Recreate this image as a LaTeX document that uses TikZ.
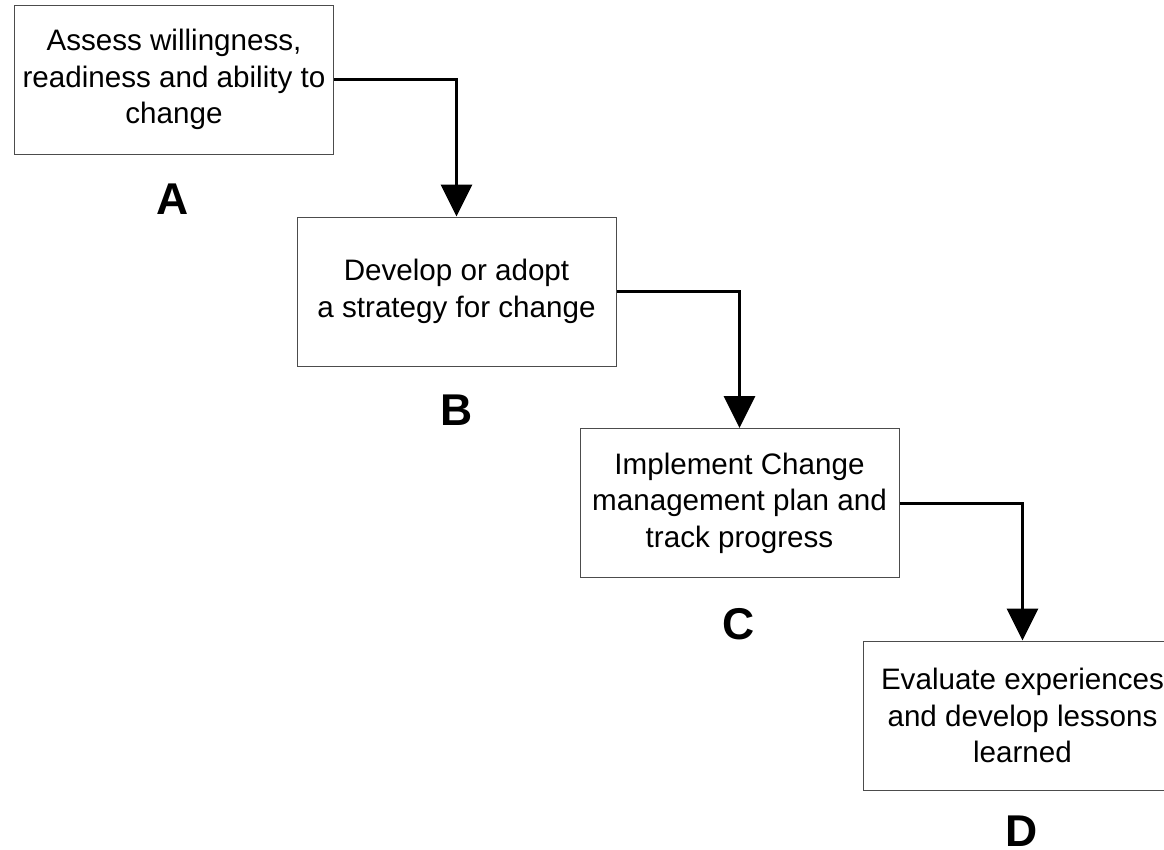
\documentclass[tikz,border=0pt]{standalone}
\usepackage{fontspec}
\setmainfont{Liberation Sans}
\usetikzlibrary{arrows.meta}
\begin{document}
\begin{tikzpicture}[x=1pt,y=-1pt,
  stepbox/.style={draw=black!70, line width=1pt, minimum width=319pt, minimum height=149pt,
    align=center, inner sep=0pt, font=\fontsize{29.6}{36.5}\selectfont, text=black},
  lab/.style={font=\fontsize{44.5}{48}\selectfont\bfseries, inner sep=0pt},
  arr/.style={line width=3pt, -{Triangle[length=32pt,width=31pt]}}]
\useasboundingbox (0,0) rectangle (1164,849);
\begin{scope}
\clip (0,0) rectangle (1164,849);
\node[stepbox] (A) at (174,79.5) {Assess willingness,\\readiness and ability to\\change};
\node[stepbox] (B) at (456.5,291.5) {Develop or adopt\\a strategy for change};
\node[stepbox] (C) at (739.5,503) {Implement Change\\management plan and\\track progress};
\node[stepbox] (D) at (1022.5,715.5) {Evaluate experiences\\and develop lessons\\learned};
\node[lab] (LA) at (172.5,199) {A};
\node[lab] (LB) at (457,410.5) {B};
\node[lab] (LC) at (739,624) {C};
\node[lab] (LD) at (1021.5,831) {D};
\draw[arr] (A.east) -| (B.north);
\draw[arr] (B.east) -| (C.north);
\draw[arr] (C.east) -| (D.north);
\end{scope}
\end{tikzpicture}
\end{document}
